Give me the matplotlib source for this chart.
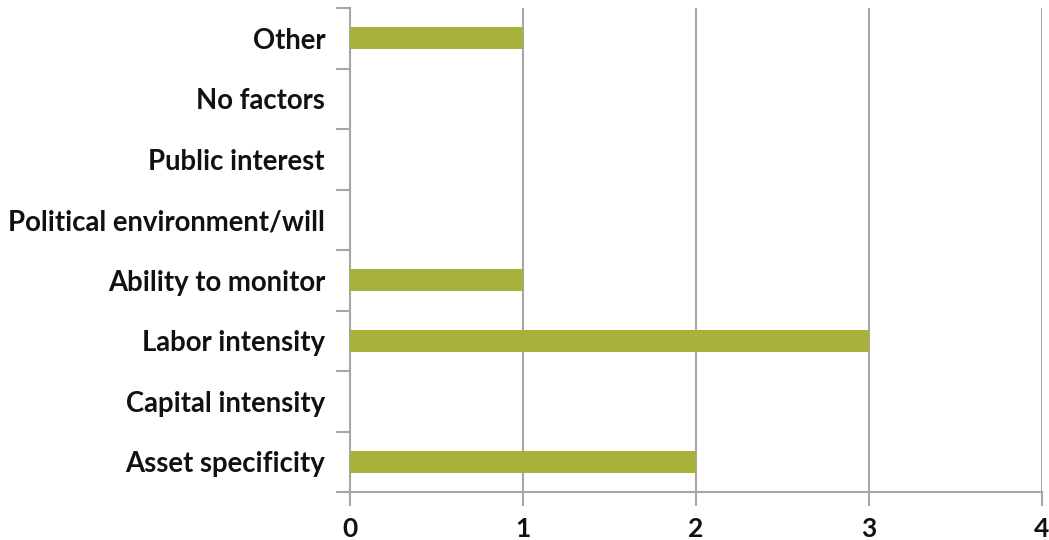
import matplotlib
matplotlib.use("Agg")
import matplotlib.pyplot as plt
import numpy as np

categories = ["Asset specificity", "Capital intensity", "Labor intensity",
              "Ability to monitor", "Political environment/will",
              "Public interest", "No factors", "Other"]
values = [2, 0, 3, 1, 0, 0, 0, 1]
xticks = [0, 1, 2, 3, 4]

bar_color = "#A8B23A"
grid_color = "#A6A6A6"

plt.rcParams['font.family'] = ['Lato', 'DejaVu Sans']

fig = plt.figure(figsize=(10.49, 5.40), dpi=100)
ax = fig.add_axes([350/1049, 48/540, 692/1049, 484/540])

y = np.arange(len(categories))
ax.barh(y, values, height=0.36, color=bar_color, zorder=3)

ax.set_xlim(0, 4)
ax.set_ylim(-0.5, len(categories) - 0.5)
ax.set_xticks(xticks)
ax.set_xticklabels([str(t) for t in xticks], fontsize=19, fontweight='bold', color='#111111')
ax.set_yticks(y)
ax.set_yticklabels(categories, fontsize=19.8, fontweight='bold', color='#111111')
ax.tick_params(axis='y', length=0, pad=18)
ax.set_yticks(np.arange(-0.5, len(categories)), minor=True)
ax.tick_params(axis='y', which='minor', length=10, width=1.5, color=grid_color)
ax.tick_params(axis='x', length=10, width=1.5, color=grid_color, pad=8)

ax.grid(axis='x', color=grid_color, linewidth=1.5, zorder=0)
for s in ['top', 'right']:
    ax.spines[s].set_visible(False)
for s in ['left', 'bottom']:
    ax.spines[s].set_color(grid_color)
    ax.spines[s].set_linewidth(1.5)

fig.savefig("out.png", dpi=100)
